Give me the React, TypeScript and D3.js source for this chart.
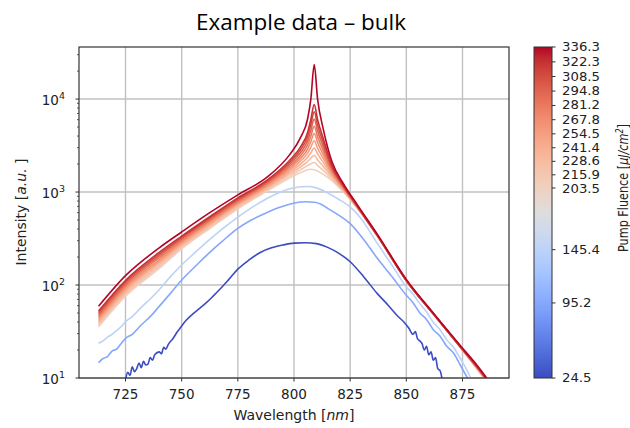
import React from "react";
import * as d3 from "d3";

// ---------- data ----------
const fluences = [24.5, 95.2, 145.4, 203.5, 215.9, 228.6, 241.4, 254.5, 267.8, 281.2, 294.8, 308.5, 322.3, 336.3];
const colorbarTicks = fluences;
const xTicks = [725, 750, 775, 800, 825, 850, 875];
const yTickExponents = [1, 2, 3, 4];

// lowest fluence (noisy)
const wlB24 = [725, 726, 727, 728, 729, 730, 731, 732, 733, 734, 735, 736, 737, 738, 740, 741, 742, 743, 744, 746, 748, 750, 752, 755, 758, 761, 764, 767, 771, 775, 780, 785, 790, 795, 800, 805, 810, 815, 820, 825, 831, 837, 842, 846, 849, 851, 853, 854, 855, 856, 857, 858, 859, 860, 861, 862, 863, 864, 865, 866];
const intB24 = [9.55, 11.5, 10.7, 13.2, 11.7, 12.6, 14.5, 12.9, 15.1, 13.8, 14.1, 16.6, 15.5, 17.8, 19.1, 18.2, 21.4, 20.4, 22.9, 26.3, 31.2, 36.3, 41.7, 49.0, 56.2, 64.6, 75.9, 90.0, 115, 148, 186, 224, 251, 269, 282, 285, 279, 254, 219, 178, 123, 81.3, 60.3, 46.8, 39.8, 34.7, 29.5, 31.6, 26.3, 25.1, 23.4, 20.0, 21.9, 17.8, 19.1, 15.5, 16.6, 12.6, 12.0, 9.55];

const wlB95 = [713, 715, 717, 719, 721, 723, 725, 728, 732, 736, 740, 745, 750, 756, 762, 768, 775, 781, 788, 793, 798, 802, 805, 809, 812, 815, 820, 825, 831, 837, 844, 850, 853, 856, 859, 862, 865, 868, 871, 874, 877.2];
const intB95 = [14.6, 16.2, 17.0, 19.5, 20.4, 23.4, 26.7, 29.5, 37.2, 45.7, 58.9, 81.3, 113, 158, 219, 295, 407, 501, 603, 676, 741, 776, 785, 776, 741, 668, 562, 457, 309, 195, 120, 77.6, 64.6, 50.1, 42.7, 33.1, 28.2, 21.9, 18.6, 13.8, 10];

const wlB145 = [713, 715, 717, 719, 721, 723, 725, 728, 732, 736, 740, 745, 750, 756, 762, 768, 775, 781, 788, 793, 798, 802, 806, 810, 815, 820, 825, 830, 837, 844, 850, 853, 856, 859, 862, 865, 868, 871, 874, 876, 878.6];
const intB145 = [23.6, 25.1, 27.5, 29.5, 32.4, 35.5, 40.3, 45.7, 57.5, 70.8, 89.1, 123, 164, 224, 302, 398, 537, 676, 851, 977, 1084, 1135, 1148, 1109, 977, 832, 692, 513, 282, 158, 95.5, 79.4, 63.1, 51.3, 39.8, 33.1, 25.7, 21.4, 16.2, 13.5, 10];

// high-fluence curves share one wavelength grid
const wlRed = [713, 725, 740, 750, 762, 775, 788, 798, 803, 806, 807.5, 809, 810.5, 813, 817, 822, 828, 837, 850, 862, 874, 882, 887];
const r203 = [35.5, 76, 151, 245, 398, 661, 1023, 1413, 1622, 1738, 1758, 1738, 1679, 1549, 1318, 1000, 676, 339, 112, 49, 21.4, 12.0, 8.3];
const r216 = [37.1, 79.2, 158, 254, 411, 681, 1054, 1483, 1742, 1923, 2016, 2080, 1934, 1710, 1374, 1019, 681, 340, 112, 49, 21.4, 12.1, 8.4];
const r229 = [38.7, 82.8, 165, 263, 425, 701, 1086, 1556, 1871, 2128, 2312, 2489, 2228, 1888, 1432, 1038, 685, 340, 112, 49, 21.5, 12.2, 8.4];
const r241 = [40.5, 86.5, 173, 272, 439, 723, 1119, 1633, 2009, 2355, 2652, 2979, 2568, 2084, 1493, 1057, 690, 341, 112, 49, 21.5, 12.3, 8.5];
const r255 = [42.3, 90.4, 180, 282, 453, 745, 1153, 1714, 2158, 2606, 3041, 3565, 2958, 2301, 1556, 1076, 695, 342, 112, 49, 21.6, 12.4, 8.6];
const r268 = [44.2, 94.4, 188, 292, 468, 767, 1189, 1799, 2317, 2884, 3487, 4266, 3409, 2541, 1622, 1096, 700, 343, 112, 49, 21.6, 12.4, 8.6];
const r281 = [46.1, 98.6, 197, 302, 483, 791, 1225, 1888, 2489, 3192, 3999, 5105, 3926, 2805, 1690, 1117, 705, 344, 112, 49, 21.7, 12.5, 8.7];
const r295 = [48.2, 103, 206, 313, 499, 815, 1262, 1982, 2673, 3532, 4587, 6109, 4524, 3097, 1762, 1138, 710, 344, 112, 49, 21.7, 12.6, 8.7];
const r309 = [50.4, 108, 215, 324, 515, 839, 1300, 2080, 2871, 3908, 5260, 7311, 5212, 3420, 1837, 1159, 715, 345, 112, 49, 21.8, 12.7, 8.8];
const r322 = [52.6, 112, 224, 335, 532, 865, 1340, 2183, 3083, 4325, 6034, 8750, 6006, 3776, 1914, 1180, 719, 346, 112, 49, 21.8, 12.8, 8.9];
const r336 = [59, 126, 251, 372, 589, 933, 1445, 2512, 3890, 6026, 10000, 23440, 10000, 4786, 2089, 1230, 741, 355, 115, 50, 22.4, 13.2, 9.1];

// matplotlib "coolwarm" colour stops
const coolwarmStops = [
  "#3b4cc0", "#445acc", "#4d68d7", "#5775e1", "#6282ea", "#6c8ef1", "#779af7", "#82a5fb",
  "#8db0fe", "#98b9ff", "#a3c2ff", "#aec9fd", "#b8d0f9", "#c2d5f4", "#ccd9ee", "#d5dbe6",
  "#dddddd", "#e5d8d1", "#ecd3c5", "#f1ccb8", "#f5c4ac", "#f7bba0", "#f7b194", "#f7a687",
  "#f49a7b", "#f18d6f", "#ec7f63", "#e57058", "#de604d", "#d55042", "#cb3e38", "#c0282f", "#b40426",
];

const seriesList = [
  { f: 24.5, wl: wlB24, v: intB24 },
  { f: 95.2, wl: wlB95, v: intB95 },
  { f: 145.4, wl: wlB145, v: intB145 },
  { f: 203.5, wl: wlRed, v: r203 },
  { f: 215.9, wl: wlRed, v: r216 },
  { f: 228.6, wl: wlRed, v: r229 },
  { f: 241.4, wl: wlRed, v: r241 },
  { f: 254.5, wl: wlRed, v: r255 },
  { f: 267.8, wl: wlRed, v: r268 },
  { f: 281.2, wl: wlRed, v: r281 },
  { f: 294.8, wl: wlRed, v: r295 },
  { f: 308.5, wl: wlRed, v: r309 },
  { f: 322.3, wl: wlRed, v: r322 },
  { f: 336.3, wl: wlRed, v: r336 },
];

// ---------- layout ----------
const W = 630, H = 428;
const PL = 79, PR = 509, PT = 47, PB = 378;
const CBX0 = 534, CBX1 = 552;
const FONT = "'DejaVu Sans', sans-serif";
const TXT = "#222";

export default function App() {
  const x = d3.scaleLinear().domain([704.3, 895.7]).range([PL, PR]);
  const y = d3.scaleLog().domain([10, Math.pow(10, 4.56)]).range([PB, PT]);
  const cb = d3.scaleLinear().domain([24.5, 336.3]).range([PB, PT]);
  const cmap = d3.piecewise(d3.interpolateRgb, coolwarmStops);
  const norm = d3.scaleLinear().domain([24.5, 336.3]).range([0, 1]);

  const line = d3.line<[number, number]>().x((d) => d[0]).y((d) => d[1]).curve(d3.curveMonotoneX);

  const minorTicks = y.ticks().filter((t) => !yTickExponents.some((e) => Math.abs(t - Math.pow(10, e)) < 1e-6));

  const gradStops = coolwarmStops.map((c, i) => (
    <stop key={i} offset={`${(i / (coolwarmStops.length - 1)) * 100}%`} stopColor={c} />
  ));

  // tiny nudge so the two closest colorbar labels don't collide
  const labelNudge = (t: number) => (t === 203.5 ? 0.6 : 0);

  return (
    <svg width={W} height={H} style={{ position: "absolute", left: 0, top: 0, background: "#fff" }} fontFamily={FONT}>
      <defs>
        <clipPath id="plotclip">
          <rect x={PL} y={PT} width={PR - PL} height={PB - PT} />
        </clipPath>
        <linearGradient id="cbgrad" x1="0" y1="1" x2="0" y2="0">
          {gradStops}
        </linearGradient>
      </defs>
      <rect x={0} y={0} width={W} height={H} fill="#fff" />

      {/* title */}
      <text x={301} y={30} textAnchor="middle" fontFamily="'Open Sans', sans-serif" fontSize={21.5} fill="#000" textLength={210} lengthAdjust="spacingAndGlyphs">
        Example data – bulk
      </text>

      {/* grid */}
      <g stroke="#c0c0c0" strokeWidth={1.4}>
        {xTicks.map((t) => (
          <line key={t} x1={x(t)} x2={x(t)} y1={PT} y2={PB} />
        ))}
        {yTickExponents.map((e) => (
          <line key={e} x1={PL} x2={PR} y1={y(Math.pow(10, e))} y2={y(Math.pow(10, e))} />
        ))}
      </g>

      {/* curves */}
      <g clipPath="url(#plotclip)" fill="none" strokeWidth={1.6} strokeLinejoin="round">
        {seriesList.map((s) => {
          const pts = s.wl.map((w, i) => [x(w), y(s.v[i])] as [number, number]);
          return <path key={s.f} d={line(pts) || ""} stroke={cmap(norm(s.f))} />;
        })}
      </g>

      {/* frame */}
      <rect x={PL} y={PT} width={PR - PL} height={PB - PT} fill="none" stroke="#333" strokeWidth={1.2} />

      {/* x ticks */}
      {xTicks.map((t) => (
        <g key={t}>
          <line x1={x(t)} x2={x(t)} y1={PB} y2={PB + 3.5} stroke="#333" strokeWidth={1} />
          <text x={x(t)} y={399} textAnchor="middle" fontSize={13.5} fill={TXT}>{t}</text>
        </g>
      ))}

      {/* y ticks */}
      {yTickExponents.map((e) => {
        const ty = y(Math.pow(10, e));
        return (
          <g key={e}>
            <line x1={PL - 3.5} x2={PL} y1={ty} y2={ty} stroke="#333" strokeWidth={1} />
            <text x={65} y={ty + 6} textAnchor="end" fontSize={13.5} fill={TXT}>
              10<tspan dy={-6.5} fontSize={9.5}>{e}</tspan>
            </text>
          </g>
        );
      })}
      {minorTicks.map((t) => (
        <line key={t} x1={PL - 2} x2={PL} y1={y(t)} y2={y(t)} stroke="#333" strokeWidth={0.8} />
      ))}

      {/* axis labels */}
      <text x={294} y={420} textAnchor="middle" fontSize={14} fill={TXT}>
        Wavelength [<tspan fontStyle="italic">nm</tspan>]
      </text>
      <text transform="translate(26,212) rotate(-90)" textAnchor="middle" fontSize={14} fill={TXT}>
        Intensity [<tspan fontStyle="italic">a.u.</tspan> ]
      </text>

      {/* colorbar */}
      <rect x={CBX0} y={PT} width={CBX1 - CBX0} height={PB - PT} fill="url(#cbgrad)" stroke="#333" strokeWidth={1} />
      {colorbarTicks.map((t) => {
        const label = t.toFixed(1);
        return (
          <g key={t}>
            <line x1={CBX1} x2={CBX1 + 3.5} y1={cb(t)} y2={cb(t)} stroke="#333" strokeWidth={1} />
            <text x={562} y={cb(t) + 4 + labelNudge(t)} fontSize={11.5} fill={TXT} textLength={label.length === 5 ? 38 : 29.5} lengthAdjust="spacingAndGlyphs">{label}</text>
          </g>
        );
      })}
      <text transform="translate(628,188) rotate(-90)" textAnchor="middle" fontSize={14} fill={TXT} textLength={128} lengthAdjust="spacingAndGlyphs">
        Pump Fluence [<tspan fontStyle="italic">μJ/cm</tspan><tspan dy={-5} fontSize={10} fontStyle="italic">2</tspan><tspan dy={5}>]</tspan>
      </text>
    </svg>
  );
}
